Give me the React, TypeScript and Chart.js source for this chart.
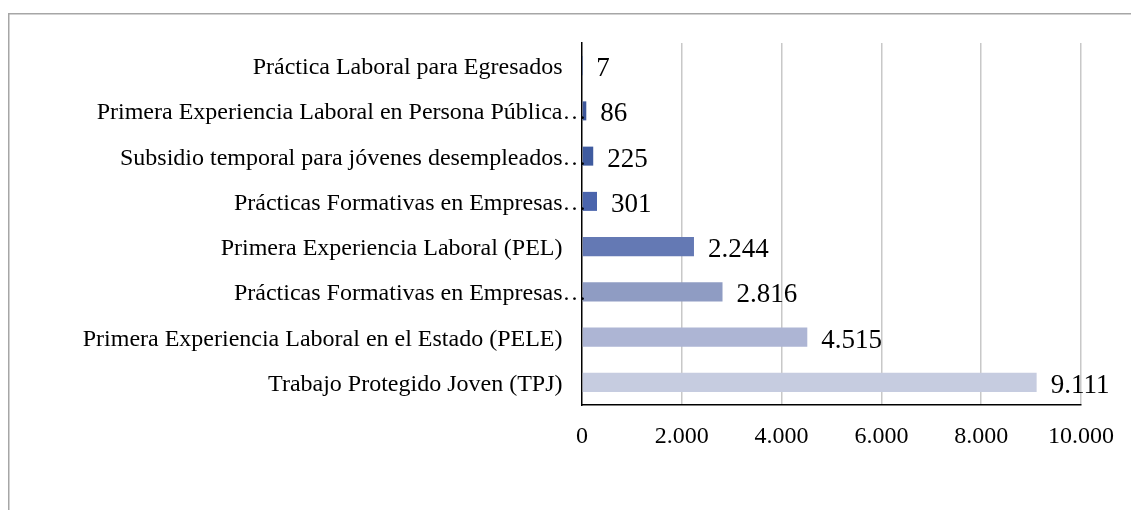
import React, { useEffect, useRef } from "react";
import { Chart, registerables } from "chart.js";

Chart.register(...registerables);

const categories = [
  "Práctica Laboral para Egresados",
  "Primera Experiencia Laboral en Persona Pública…",
  "Subsidio temporal para jóvenes desempleados…",
  "Prácticas Formativas en Empresas…",
  "Primera Experiencia Laboral (PEL)",
  "Prácticas Formativas en Empresas…",
  "Primera Experiencia Laboral en el Estado (PELE)",
  "Trabajo Protegido Joven (TPJ)",
];

const values = [7, 86, 225, 301, 2244, 2816, 4515, 9111];

const barColors = [
  "#2e4a8c",
  "#3d5699",
  "#3f5b9f",
  "#4a64ac",
  "#6479b4",
  "#8f9cc3",
  "#adb5d4",
  "#c6cce0",
];

const xMin = 0;
const xMax = 10000;
const xStep = 2000;

const FONT = '"Liberation Serif", "Times New Roman", serif';

const fmt = (v: number) =>
  String(Math.round(v)).replace(/\B(?=(\d{3})+(?!\d))/g, ".");

const framePlugin = {
  id: "frame",
  beforeDraw(chart: any) {
    const ctx = chart.ctx;
    ctx.save();
    ctx.fillStyle = "#ffffff";
    ctx.fillRect(0, 0, chart.width, chart.height);
    ctx.strokeStyle = "#a6a6a6";
    ctx.lineWidth = 1.5;
    ctx.strokeRect(8.75, 13.75, 3000, 3000);
    ctx.restore();
  },
};

const categoryLabelPlugin = {
  id: "catLabels",
  afterDraw(chart: any) {
    const ctx = chart.ctx;
    const yScale = chart.scales.y;
    const x = chart.chartArea.left - 19.5;
    ctx.save();
    ctx.font = `24px ${FONT}`;
    ctx.fillStyle = "#000000";
    ctx.textBaseline = "alphabetic";
    categories.forEach((label, i) => {
      const y = yScale.getPixelForValue(i) + 8.5;
      if (label.endsWith("…")) {
        const base = label.slice(0, -1);
        ctx.textAlign = "right";
        ctx.fillText(base, x, y);
        ctx.textAlign = "left";
        ctx.fillText("…", x, y);
      } else {
        ctx.textAlign = "right";
        ctx.fillText(label, x, y);
      }
    });
    ctx.restore();
  },
};

const dataLabelPlugin = {
  id: "dataLabels",
  afterDatasetsDraw(chart: any) {
    const ctx = chart.ctx;
    const meta = chart.getDatasetMeta(0);
    ctx.save();
    ctx.font = `27px ${FONT}`;
    ctx.fillStyle = "#000000";
    ctx.textAlign = "left";
    ctx.textBaseline = "alphabetic";
    meta.data.forEach((bar: any, i: number) => {
      ctx.fillText(fmt(values[i]), bar.x + 14, bar.y + 10.5);
    });
    ctx.restore();
  },
};

export default function App() {
  const canvasRef = useRef<HTMLCanvasElement | null>(null);

  useEffect(() => {
    const canvas = canvasRef.current;
    if (!canvas) return;
    const chart = new Chart(canvas, {
      type: "bar",
      data: {
        labels: categories,
        datasets: [
          {
            data: values,
            backgroundColor: barColors,
            borderWidth: 0,
            categoryPercentage: 1,
            barPercentage: 0.42,
          },
        ],
      },
      options: {
        indexAxis: "y",
        animation: false,
        responsive: false,
        devicePixelRatio: 1,
        layout: { padding: { top: 43, right: 50, bottom: 55, left: 0 } },
        plugins: {
          legend: { display: false },
          tooltip: { enabled: false },
        },
        scales: {
          x: {
            type: "linear",
            min: xMin,
            max: xMax,
            ticks: {
              stepSize: xStep,
              callback: (v: any) => fmt(Number(v)),
              color: "#000000",
              font: { family: FONT, size: 24 },
              padding: 17,
              maxRotation: 0,
            },
            grid: {
              drawTicks: false,
              color: (c: any) =>
                c.tick && c.tick.value === 0 ? "rgba(0,0,0,0)" : "#c8c8c8",
              lineWidth: 1.5,
            },
            border: { display: true, color: "#000000", width: 1.5 },
            afterFit: (s: any) => {
              s.height = 50;
            },
          },
          y: {
            type: "category",
            ticks: { display: false },
            grid: { display: false, drawTicks: false },
            border: { display: true, color: "#000000", width: 1.5 },
            afterFit: (s: any) => {
              s.width = 582;
            },
          },
        },
      },
      plugins: [framePlugin, dataLabelPlugin, categoryLabelPlugin],
    } as any);
    return () => chart.destroy();
  }, []);

  return (
    <div style={{ position: "fixed", left: 0, top: 0, width: 1131, height: 510 }}>
      <canvas
        ref={canvasRef}
        width={1131}
        height={510}
        style={{ display: "block", width: 1131, height: 510 }}
      />
    </div>
  );
}
